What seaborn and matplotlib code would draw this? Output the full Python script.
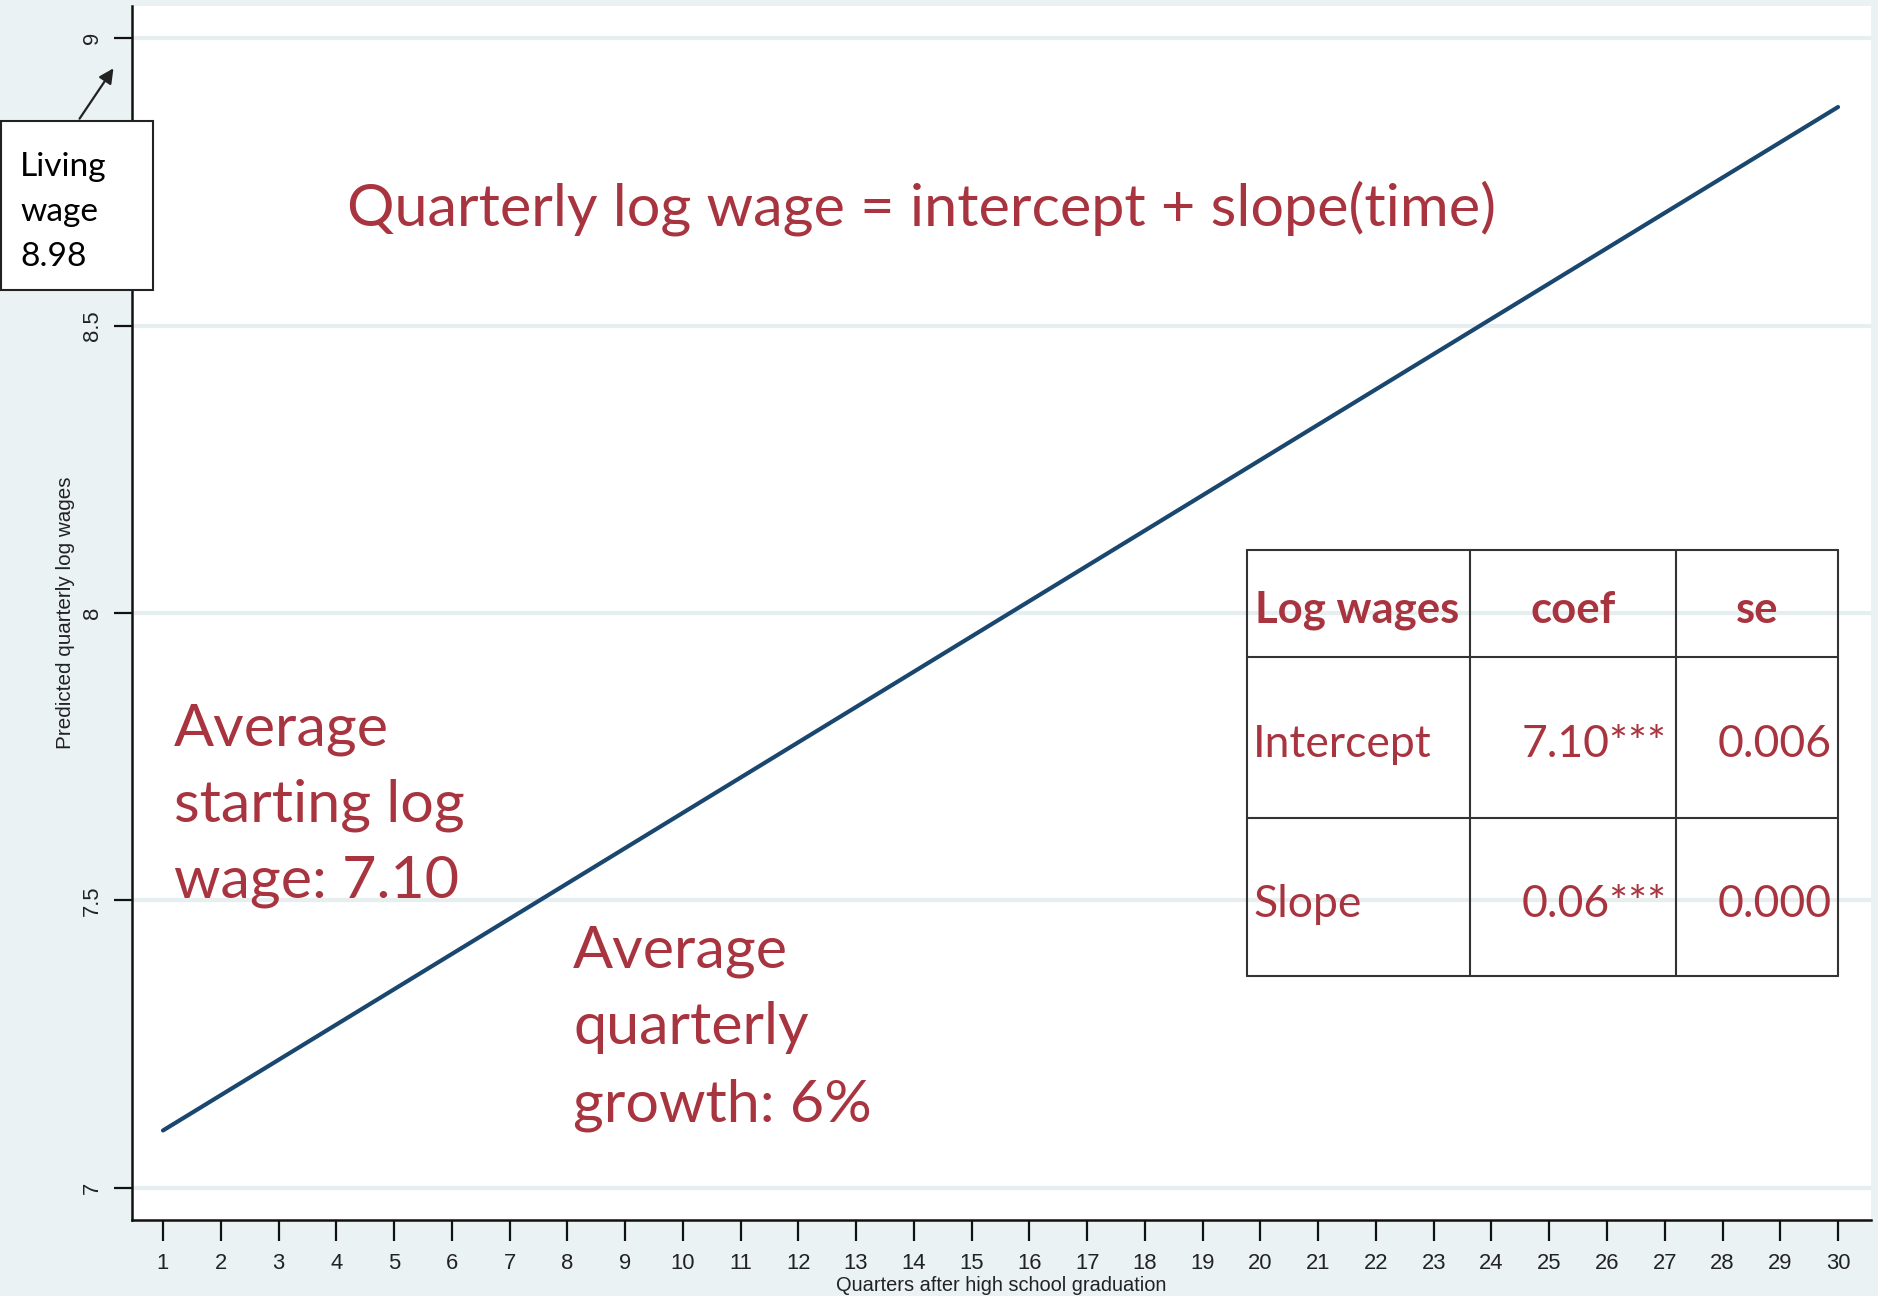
import numpy as np
import pandas as pd
import matplotlib
matplotlib.use("Agg")
import matplotlib.pyplot as plt
import seaborn as sns
from matplotlib.patches import Rectangle, FancyArrowPatch
from matplotlib.lines import Line2D

# ---------------- data ----------------
quarters = [1, 30]
predicted_log_wage = [7.10, 8.88]
x_ticks = list(range(1, 31))
y_ticks = [7, 7.5, 8, 8.5, 9]
y_tick_labels = ["7", "7.5", "8", "8.5", "9"]
living_wage_lines = ["Living", "wage", "8.98"]
table_header = ["Log wages", "coef", "se"]
table_terms = ["Intercept", "Slope"]
table_coefs = ["7.10***", "0.06***"]
table_ses = ["0.006", "0.000"]
title_text = "Quarterly log wage = intercept + slope(time)"
start_text = ["Average", "starting log", "wage: 7.10"]
growth_text = ["Average", "quarterly", "growth: 6%"]
x_label = "Quarters after high school graduation"
y_label = "Predicted quarterly log wages"

# ---------------- style ----------------
W, H = 1878, 1296
BG = "#EAF2F3"
GRID = "#E6EEF0"
RED = "#A8343F"
NAVY = "#1A476F"

sns.set_style("white")
plt.rcParams['font.family'] = ['Liberation Sans Narrow', 'Liberation Sans', 'DejaVu Sans']
ANN = ['Lato', 'DejaVu Sans']

fig = plt.figure(figsize=(W / 100, H / 100), dpi=100, facecolor=BG)
L, R, T, B = 132, 1871, 6, 1220
ax = fig.add_axes([L / W, 1 - B / H, (R - L) / W, (B - T) / H])
ax.set_facecolor("white")

df = pd.DataFrame({"q": quarters, "w": predicted_log_wage})
sns.lineplot(data=df, x="q", y="w", ax=ax, color=NAVY, linewidth=3.0, zorder=3)

ax.set_xlim(0.4633, 30.571)
ax.set_ylim(6.9443, 9.0557)
ax.set_xticks(x_ticks)
ax.set_xticklabels([str(v) for v in x_ticks])
ax.set_yticks(y_ticks)
ax.set_yticklabels(y_tick_labels, rotation=90, va="center")
for y in y_ticks:
    ax.axhline(y, color=GRID, lw=3.0, zorder=1)

for s in ["top", "right"]:
    ax.spines[s].set_visible(False)
for s in ["left", "bottom"]:
    ax.spines[s].set_color("#111111")
    ax.spines[s].set_linewidth(1.8)

renderer = fig.canvas.get_renderer()


def fit(t, target, dim="w"):
    bb = t.get_window_extent(renderer)
    cur = bb.width if dim == "w" else bb.height
    t.set_fontsize(t.get_fontsize() * target / cur)
    return t.get_fontsize()


def ftxt(x, y, s, **kw):
    return fig.text(x / W, 1 - y / H, s, **kw)


# axis labels
xl = ax.set_xlabel(x_label, fontsize=12, color="#222222")
ax.xaxis.set_label_coords(0.5, -0.046)
fs_ax = fit(xl, 332)
yl = ax.set_ylabel(y_label, fontsize=fs_ax * 1.03, color="#222222")
ax.yaxis.set_label_coords(-0.033, 0.5)

ax.tick_params(axis="x", length=15, width=1.6, pad=9, labelsize=fs_ax * 1.1, colors="#111111",
               direction="out", bottom=True)
ax.tick_params(axis="y", length=13, width=1.6, pad=8, labelsize=fs_ax * 1.1, colors="#111111",
               direction="out", left=True)
for lab in ax.get_xticklabels() + ax.get_yticklabels():
    lab.set_color("#222222")

# title-like annotation
t = ftxt(347, 225, title_text, color=RED, family=ANN, fontsize=40, va="baseline", ha="left")
fit(t, 1148)

# left block
ref = ftxt(174, 822, start_text[1], color=RED, family=ANN, fontsize=40, va="baseline")
fs_blk = fit(ref, 291)
ftxt(174, 745, start_text[0], color=RED, family=ANN, fontsize=fs_blk, va="baseline")
ftxt(174, 898, start_text[2], color=RED, family=ANN, fontsize=fs_blk, va="baseline")

# middle block
for s, yb in zip(growth_text, [968, 1044, 1121]):
    ftxt(573, yb, s, color=RED, family=ANN, fontsize=fs_blk, va="baseline")

# table
tx0, tx1, tx2, tx3 = 1247, 1470, 1676, 1838
ty0, ty1, ty2, ty3 = 550, 657, 818, 976
lkw = dict(transform=fig.transFigure, color="#333333", lw=1.5, zorder=10)
for yy in [ty0, ty1, ty2, ty3]:
    fig.add_artist(Line2D([tx0 / W, tx3 / W], [1 - yy / H, 1 - yy / H], **lkw))
for xx in [tx0, tx1, tx2, tx3]:
    fig.add_artist(Line2D([xx / W, xx / W], [1 - ty0 / H, 1 - ty3 / H], **lkw))

h0 = ftxt(1255, 623, table_header[0], color=RED, family=ANN, fontweight="bold",
          fontsize=30, va="baseline", ha="left")
fs_h = fit(h0, 204)
ftxt(1573, 623, table_header[1], color=RED, family=ANN, fontweight="bold",
     fontsize=fs_h, va="baseline", ha="center")
ftxt(1757, 623, table_header[2], color=RED, family=ANN, fontweight="bold",
     fontsize=fs_h, va="baseline", ha="center")

r0 = ftxt(1253, 757, table_terms[0], color=RED, family=ANN, fontsize=30, va="baseline")
fs_b = fit(r0, 178)
for i, yb in enumerate([757, 917]):
    if i > 0:
        ftxt(1253, yb, table_terms[i], color=RED, family=ANN, fontsize=fs_b, va="baseline")
    ftxt(1667, yb, table_coefs[i], color=RED, family=ANN, fontsize=fs_b, va="baseline", ha="right")
    ftxt(1832, yb, table_ses[i], color=RED, family=ANN, fontsize=fs_b, va="baseline", ha="right")

# living wage box
fig.add_artist(Rectangle((1 / W, 1 - 290 / H), 152 / W, 169 / H, transform=fig.transFigure,
                         facecolor="white", edgecolor="#222222", lw=1.5, zorder=20))
lw0 = ftxt(20, 176, living_wage_lines[0], color="black", family=ANN, fontsize=20,
           va="baseline", zorder=21)
fs_lw = fit(lw0, 87)
for s, yb in zip(living_wage_lines[1:], [221, 266]):
    ftxt(20, yb, s, color="black", family=ANN, fontsize=fs_lw, va="baseline", zorder=21)

arr = FancyArrowPatch((78 / W, 1 - 121 / H), (115 / W, 1 - 66 / H), transform=fig.transFigure,
                      arrowstyle="-|>", mutation_scale=22, color="#222222", lw=1.6, zorder=20)
fig.add_artist(arr)

fig.savefig("out.png", dpi=100, facecolor=BG)
